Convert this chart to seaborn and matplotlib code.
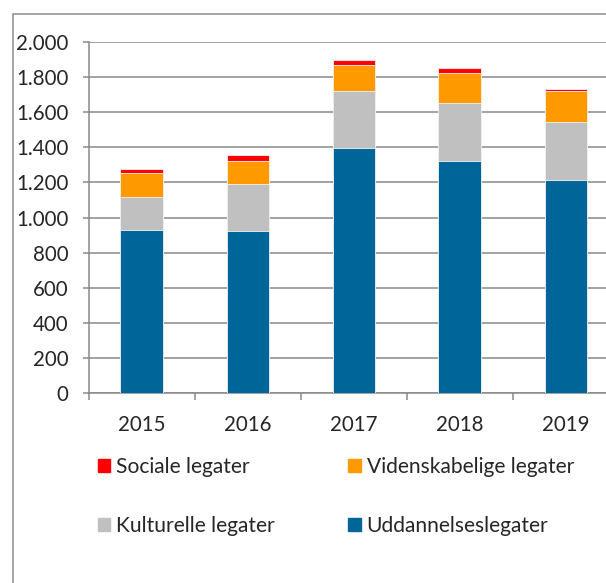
import seaborn as sns
import matplotlib
matplotlib.use('Agg')
import matplotlib.pyplot as plt
import matplotlib.patches as mpatches
from matplotlib.ticker import FixedLocator, FuncFormatter

# Data
years = ['2015', '2016', '2017', '2018', '2019']
uddannelse = [929, 925, 1395, 1322, 1212]
kulturelle = [188, 265, 325, 333, 333]
videnskab = [137, 134, 152, 171, 179]
sociale = [23, 35, 27, 26, 9]

# Colours
c_udd = '#006699'
c_kul = '#C0C0C0'
c_vid = '#FF9900'
c_soc = '#FF0000'
c_grid = '#898989'

sns.set_style('white')
plt.rcParams['font.family'] = ['Lato', 'DejaVu Sans']

W, H = 606, 583
fig = plt.figure(figsize=(W / 100, H / 100), dpi=100)
ax = fig.add_axes([88.7 / W, 1 - 392.7 / H, 530 / W, 350.4 / H])

# cumulative layers, drawn from the top total downwards
lvl1 = [a for a in uddannelse]
lvl2 = [a + b for a, b in zip(lvl1, kulturelle)]
lvl3 = [a + b for a, b in zip(lvl2, videnskab)]
lvl4 = [a + b for a, b in zip(lvl3, sociale)]

for vals, col in [(lvl4, c_soc), (lvl3, c_vid), (lvl2, c_kul), (lvl1, c_udd)]:
    sns.barplot(x=years, y=vals, color=col, saturation=1, width=0.4,
                edgecolor='#f2f2f2', linewidth=0.6, ax=ax, zorder=3)

ax.set_xlim(-0.5, 4.5)
ax.set_ylim(0, 2000)
ax.set_xlabel('')
ax.set_ylabel('')

# y axis
ax.yaxis.set_major_locator(FixedLocator(range(0, 2001, 200)))
ax.yaxis.set_major_formatter(FuncFormatter(lambda v, p: f'{int(v):,}'.replace(',', '.')))
ax.grid(axis='y', color=c_grid, linewidth=1.1, zorder=0)
ax.set_axisbelow(True)
ax.tick_params(axis='y', which='major', direction='out', length=4.5, width=1.1,
               color=c_grid, labelsize=14.8, pad=10, left=True)

# x axis: ticks between categories, labels at centres
ax.xaxis.set_major_locator(FixedLocator([-0.5, 0.5, 1.5, 2.5, 3.5, 4.5]))
ax.xaxis.set_minor_locator(FixedLocator(range(len(years))))
ax.xaxis.set_major_formatter(FuncFormatter(lambda v, p: ''))
ax.xaxis.set_minor_formatter(FuncFormatter(lambda v, p: years[int(round(v))]))
ax.tick_params(axis='x', which='major', direction='out', length=5, width=1.1,
               color=c_grid, bottom=True)
ax.tick_params(axis='x', which='minor', length=0, labelsize=14.8, pad=16)

for s in ['top', 'right']:
    ax.spines[s].set_visible(False)
for s in ['left', 'bottom']:
    ax.spines[s].set_color(c_grid)
    ax.spines[s].set_linewidth(1.1)

# legend
handles = [mpatches.Patch(color=c_soc, label='Sociale legater'),
           mpatches.Patch(color=c_kul, label='Kulturelle legater'),
           mpatches.Patch(color=c_vid, label='Videnskabelige legater'),
           mpatches.Patch(color=c_udd, label='Uddannelseslegater')]
fig.legend(handles=handles, ncol=2, loc='upper left',
           bbox_to_anchor=(98.3 / W, 1 - 457 / H), bbox_transform=fig.transFigure,
           frameon=False, fontsize=15.1, handlelength=0.58, handleheight=0.58,
           handletextpad=0.28, labelspacing=1.84, columnspacing=3.5,
           borderpad=0, borderaxespad=0)

# outer chart border
fig.add_artist(mpatches.Rectangle((12.5 / W, -0.1), 2, 1.1 - 14 / H,
                                  transform=fig.transFigure, fill=False,
                                  edgecolor='#8c8c8c', linewidth=1.1, clip_on=False))

fig.savefig('out.png', dpi=100)
